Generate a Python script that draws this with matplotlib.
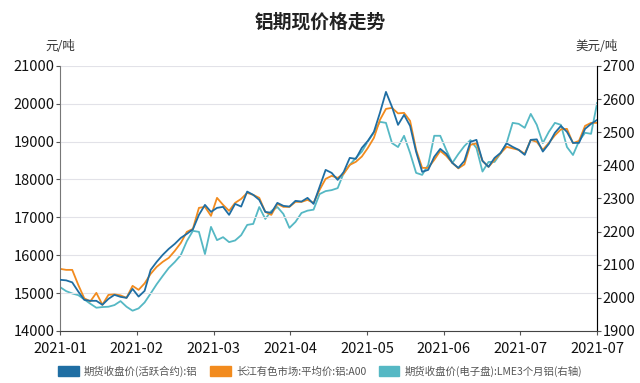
import matplotlib
matplotlib.use("Agg")
import matplotlib.pyplot as plt
from matplotlib.patches import Patch
import numpy as np

plt.rcParams['font.family'] = ['Noto Sans CJK SC', 'DejaVu Sans']

# 期货收盘价(活跃合约):铝  (元/吨)
shfe = [15350, 15335, 15282, 15040, 14820, 14795, 14795, 14690, 14846, 14952,
        14900, 14873, 15110, 14907, 15058, 15612, 15824, 16009, 16167, 16299,
        16457, 16563, 16682, 17065, 17329, 17144, 17250, 17276, 17065, 17355,
        17284, 17680, 17593, 17461, 17144, 17118, 17382, 17303, 17284, 17435,
        17416, 17514, 17355, 17804, 18253, 18174, 17989, 18200, 18570, 18544,
        18834, 19019, 19257, 19759, 20313, 19917, 19442, 19706, 19415, 18729,
        18201, 18253, 18597, 18808, 18676, 18438, 18306, 18491, 18993, 19046,
        18491, 18333, 18570, 18702, 18953, 18861, 18782, 18650, 19046, 19059,
        18737, 18940, 19231, 19415, 19257, 18966, 18966, 19336, 19468, 19574]

# 长江有色市场:平均价:铝:A00  (元/吨)
changjiang = [15639, 15612, 15612, 15216, 14860, 14780, 15005, 14690, 14952, 14965,
              14939, 14873, 15190, 15084, 15256, 15507, 15692, 15824, 15929, 16114,
              16325, 16616, 16695, 17250, 17276, 17038, 17514, 17329, 17171, 17382,
              17487, 17646, 17593, 17514, 17144, 17065, 17355, 17276, 17276, 17408,
              17408, 17461, 17382, 17725, 18016, 18095, 18042, 18148, 18385, 18465,
              18605, 18834, 19098, 19574, 19864, 19891, 19746, 19759, 19547, 18782,
              18306, 18306, 18517, 18755, 18623, 18438, 18293, 18399, 18914, 18953,
              18491, 18333, 18517, 18694, 18861, 18821, 18782, 18676, 19046, 18993,
              18782, 18966, 19165, 19323, 19336, 18958, 19019, 19415, 19495, 19495]

# 期货收盘价(电子盘):LME3个月铝 (美元/吨, 右轴)
lme = [2032, 2020, 2013, 2008, 1995, 1982, 1970, 1972, 1973, 1978,
       1990, 1973, 1961, 1968, 1986, 2013, 2041, 2066, 2090, 2108,
       2129, 2171, 2202, 2199, 2132, 2214, 2174, 2183, 2168, 2173,
       2189, 2220, 2223, 2274, 2238, 2262, 2274, 2253, 2211, 2229,
       2256, 2263, 2266, 2313, 2322, 2325, 2331, 2377, 2401, 2422,
       2441, 2472, 2499, 2531, 2528, 2467, 2455, 2489, 2437, 2377,
       2371, 2401, 2489, 2489, 2446, 2407, 2434, 2458, 2476, 2452,
       2381, 2410, 2410, 2436, 2467, 2528, 2525, 2513, 2555, 2522,
       2467, 2501, 2528, 2522, 2455, 2431, 2473, 2498, 2495, 2588]

tick_labels = ['2021-01', '2021-02', '2021-03', '2021-04',
               '2021-05', '2021-06', '2021-07', '2021-07']
left_ticks = [14000, 15000, 16000, 17000, 18000, 19000, 20000, 21000]
right_ticks = [1900, 2000, 2100, 2200, 2300, 2400, 2500, 2600, 2700]

c_blue = '#1f6ea3'
c_orange = '#f28b1e'
c_teal = '#55b8c4'

x = np.arange(len(shfe))

fig = plt.figure(figsize=(6.4, 3.83), dpi=100)
ax = fig.add_axes([0.094, 0.136, 0.839, 0.692])
ax2 = ax.twinx()

ax.plot(x, shfe, color=c_blue, lw=1.3, zorder=3)
ax.plot(x, changjiang, color=c_orange, lw=1.3, zorder=2)
ax2.plot(x, lme, color=c_teal, lw=1.3)
ax.set_zorder(ax2.get_zorder() + 1)
ax.patch.set_visible(False)

ax.set_xlim(0, len(x) - 1)
ax.set_ylim(14000, 21000)
ax2.set_ylim(1900, 2700)
ax.set_yticks(left_ticks)
ax2.set_yticks(right_ticks)
ax.set_xticks(np.linspace(0, len(x) - 1, len(tick_labels)))
ax.set_xticklabels(tick_labels)

ax.grid(axis='y', color='#e2e2e8', lw=0.8)
for a in (ax, ax2):
    a.spines['top'].set_visible(False)
    a.tick_params(labelsize=10.5, length=3, color='#555555', labelcolor='#111111', pad=1)
ax.spines['left'].set_color('#777777')
ax2.spines['right'].set_color('#777777')
ax.spines['bottom'].set_color('#444444')
ax2.spines['left'].set_visible(False)
ax2.spines['bottom'].set_visible(False)
ax.tick_params(axis='x', pad=5)

fig.text(0.5, 0.942, '铝期现价格走势', ha='center', va='center',
         fontsize=13.5, fontweight='bold', color='#222222')
fig.text(0.094, 0.878, '元/吨', ha='center', va='center', fontsize=9, color='#333333')
fig.text(0.933, 0.878, '美元/吨', ha='center', va='center', fontsize=9, color='#333333')

handles = [Patch(color=c_blue), Patch(color=c_orange), Patch(color=c_teal)]
labels = ['期货收盘价(活跃合约):铝', '长江有色市场:平均价:铝:A00',
          '期货收盘价(电子盘):LME3个月铝(右轴)']
leg = fig.legend(handles, labels, loc='center', bbox_to_anchor=(0.5, 0.03),
                 ncol=3, frameon=False, fontsize=7.5, handlelength=2.0,
                 handleheight=1.1, columnspacing=1.2, handletextpad=0.5)
for t in leg.get_texts():
    t.set_color('#555555')

fig.savefig('out.png', dpi=100, facecolor='white')
